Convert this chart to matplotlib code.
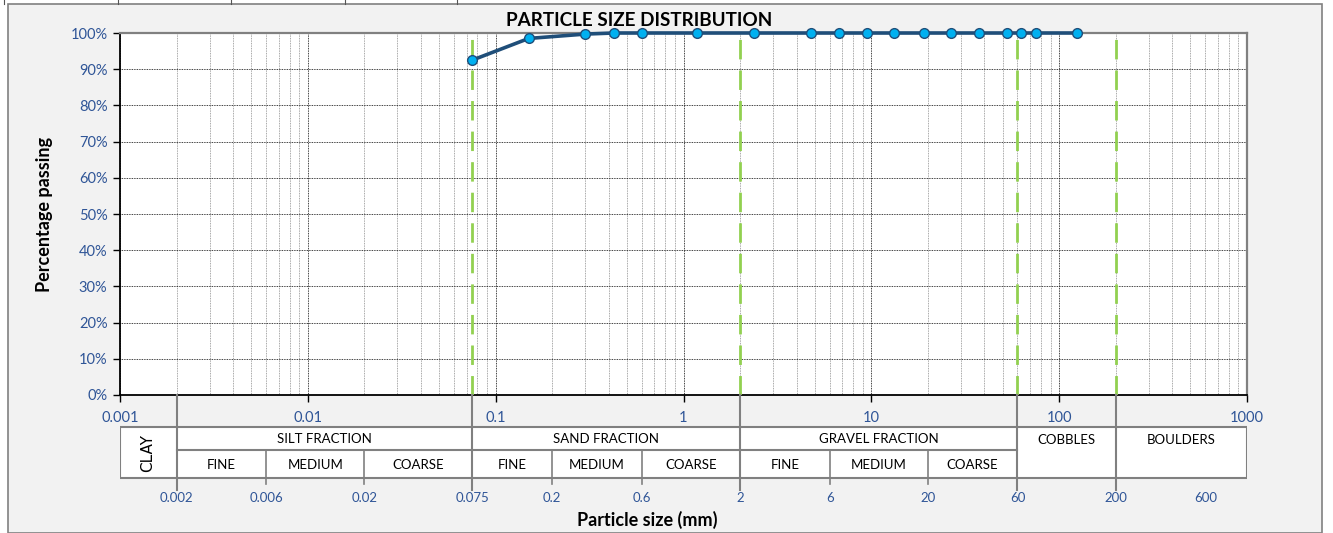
import matplotlib
matplotlib.use('Agg')
import matplotlib.pyplot as plt
from matplotlib.patches import Rectangle
from matplotlib.lines import Line2D

# sieve results
sizes_mm = [0.075, 0.15, 0.3, 0.425, 0.6, 1.18, 2.36, 4.75, 6.7, 9.5, 13.2,
            19, 26.5, 37.5, 53, 63, 75, 125]
passing = [92.5, 98.5, 99.7, 100, 100, 100, 100, 100, 100, 100, 100,
           100, 100, 100, 100, 100, 100, 100]

# classification boundaries (mm)
fraction_bounds = [0.002, 0.075, 2, 60, 200]
sub_bounds = [0.006, 0.02, 0.2, 0.6, 6, 20]
green_bounds = [0.075, 2, 60, 200]
fractions = [('SILT FRACTION', 0.002, 0.075), ('SAND FRACTION', 0.075, 2),
             ('GRAVEL FRACTION', 2, 60)]
big_cells = [('COBBLES', 60, 200), ('BOULDERS', 200, 1000)]
sub_names = ['FINE', 'MEDIUM', 'COARSE']
sub_edges = [[0.002, 0.006, 0.02, 0.075], [0.075, 0.2, 0.6, 2], [2, 6, 20, 60]]
bottom_ticks = [0.002, 0.006, 0.02, 0.075, 0.2, 0.6, 2, 6, 20, 60, 200, 600]
bottom_labels = ['0.002', '0.006', '0.02', '0.075', '0.2', '0.6', '2', '6',
                 '20', '60', '200', '600']
top_ticks = [0.001, 0.01, 0.1, 1, 10, 100, 1000]
top_labels = ['0.001', '0.01', '0.1', '1', '10', '100', '1000']

plt.rcParams['font.family'] = ['Lato', 'DejaVu Sans']
blue_txt = '#2f5597'
grey = '#808080'

W, H = 1333, 533
fig = plt.figure(figsize=(W / 100, H / 100), dpi=100)
fig.patch.set_facecolor('white')

# chart area background + border
fig.patches.append(Rectangle((8 / W, 0), (1322 - 8) / W, (H - 4) / H,
                             transform=fig.transFigure, facecolor='#f2f2f2',
                             edgecolor=grey, lw=1.2, zorder=-10))
# spreadsheet cell lines peeking at the top
for xp in [4, 118, 231, 345, 457]:
    fig.lines.append(Line2D([xp / W, xp / W], [1, (H - 4) / H],
                            transform=fig.transFigure, color='#555555', lw=0.8))

left, right, top, bot = 120, 1247, 33, 395
ax = fig.add_axes([left / W, 1 - bot / H, (right - left) / W, (bot - top) / H])
ax.set_facecolor('white')
ax.set_xscale('log')
ax.set_xlim(0.001, 1000)
ax.set_ylim(0, 100)

ax.grid(which='major', axis='both', color='black', ls=(0, (1, 1)), lw=0.6)
ax.grid(which='minor', axis='x', color='#8a8a8a', ls=(0, (1, 1)), lw=0.6)
ax.set_axisbelow(True)

ax.set_yticks(range(0, 101, 10))
ax.set_yticklabels([f'{v}%' for v in range(0, 101, 10)], color=blue_txt, fontsize=10.5)
ax.tick_params(axis='y', length=5, width=1, direction='out', pad=4)
ax.tick_params(axis='x', which='major', length=5, width=1, direction='out',
               labelbottom=False)
ax.tick_params(axis='x', which='minor', length=0)

for s in ['left', 'bottom']:
    ax.spines[s].set_color('black')
    ax.spines[s].set_linewidth(1.3)
for s in ['top', 'right']:
    ax.spines[s].set_color(grey)
    ax.spines[s].set_linewidth(1.6)

for b in green_bounds:
    ax.plot([b, b], [0, 100], color='#92d050', lw=2, dashes=(7, 4), zorder=3)

ax.plot(sizes_mm, passing, color='#1f4e79', lw=2.6, marker='o', ms=7,
        mfc='#00b0f0', mec='#1f4e79', mew=1, zorder=5, clip_on=False)

fig.text(45 / W, 1 - 214 / H, 'Percentage passing', rotation=90, ha='center',
         va='center', fontsize=13, fontweight='bold')
fig.text(639 / W, 1 - 21 / H, 'PARTICLE SIZE DISTRIBUTION', ha='center',
         va='center', fontsize=13.6, fontweight='bold')

# classification table below the graph (y in pixels below the x axis)
tab = fig.add_axes([left / W, 0, (right - left) / W, (H - bot) / H])
tab.set_xscale('log')
tab.set_xlim(0.001, 1000)
tab.set_ylim(H - bot, 0)
tab.axis('off')
tab.patch.set_alpha(0)

row_top, row_mid, row_bot = 32, 55, 83
tab.add_patch(Rectangle((0.001, row_top), 1000 - 0.001, row_bot - row_top,
                        facecolor='white', edgecolor=grey, lw=1.5))
tab.plot([0.002, 60], [row_mid, row_mid], color=grey, lw=1.5)
for b in fraction_bounds:
    tab.plot([b, b], [0, 95], color=grey, lw=1.5, clip_on=False)
for b in sub_bounds:
    tab.plot([b, b], [row_mid, 89], color=grey, lw=1.2)

tab.text(0.00141, (row_top + row_bot) / 2, 'CLAY', rotation=90, ha='center',
         va='center', fontsize=11, family='DejaVu Sans')
for name, a, b in fractions:
    tab.text((a * b) ** 0.5, 44, name, ha='center', va='center', fontsize=9.5)
for name, a, b in big_cells:
    tab.text((a * b) ** 0.5, 45, name, ha='center', va='center', fontsize=9.5)
for edges in sub_edges:
    for i, name in enumerate(sub_names):
        tab.text((edges[i] * edges[i + 1]) ** 0.5, 70, name, ha='center',
                 va='center', fontsize=9.5)

for v, t in zip(top_ticks, top_labels):
    tab.text(v, 23, t, ha='center', va='center', fontsize=10.5, color=blue_txt)
for v, t in zip(bottom_ticks, bottom_labels):
    tab.text(v, 103, t, ha='center', va='center', fontsize=9.5, color=blue_txt)
fig.text(647 / W, 1 - 520 / H, 'Particle size (mm)', ha='center',
         va='center', fontsize=13, fontweight='bold')

fig.savefig('out.png', dpi=100)
